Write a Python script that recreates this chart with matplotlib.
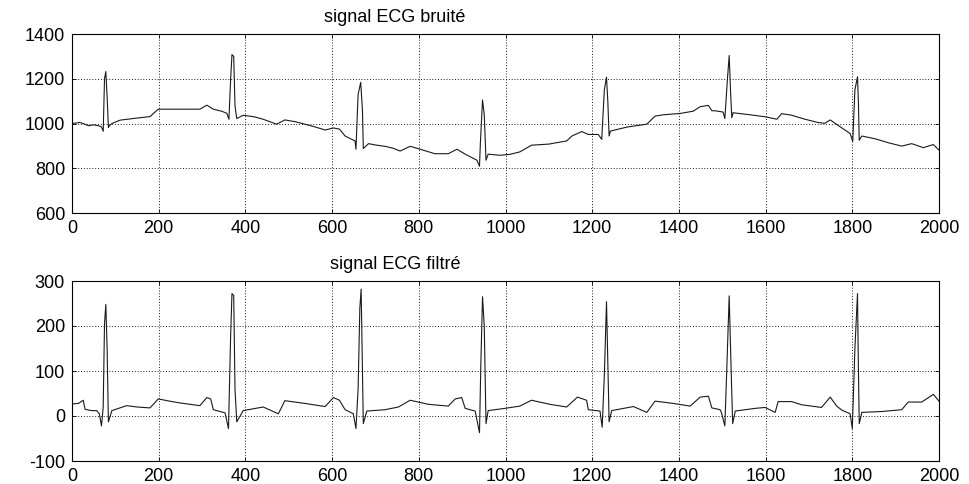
import matplotlib
matplotlib.use("Agg")
import matplotlib.pyplot as plt

plt.rcParams['font.family'] = ['Liberation Sans', 'DejaVu Sans']
plt.rcParams['axes.unicode_minus'] = False

# ---- data ----
noisy_x = [0, 10, 18, 28, 38, 50, 61, 68, 72, 75, 78, 81, 84, 86, 92, 111, 140, 180, 199,
           240, 295, 311, 326, 345, 357, 362, 366, 369, 373, 376, 380, 395, 420, 441, 472, 491,
           515, 537, 560, 584, 603, 617, 630, 653, 655, 660, 666, 670, 672, 684, 700, 722, 740,
           757, 780, 798, 820, 837, 868, 888, 907, 934, 940, 942, 947, 951, 955, 960, 987, 1010,
           1033, 1060, 1100, 1141, 1153, 1176, 1191, 1214, 1222, 1228, 1233, 1236, 1239, 1242,
           1280, 1326, 1345, 1364, 1403, 1433, 1449, 1468, 1476, 1483, 1502, 1506, 1512, 1516,
           1519, 1522, 1525, 1560, 1599, 1626, 1637, 1660, 1691, 1722, 1737, 1749, 1776, 1795,
           1801, 1806, 1812, 1814, 1816, 1822, 1852, 1883, 1914, 1937, 1964, 1987, 2000]
noisy_y = [1000, 1002, 1005, 998, 990, 994, 990, 985, 965, 1200, 1232, 1120, 982, 990, 1000,
           1015, 1022, 1031, 1064, 1064, 1064, 1082, 1064, 1055, 1046, 1019, 1200, 1308, 1300,
           1080, 1022, 1037, 1030, 1019, 997, 1016, 1008, 997, 985, 971, 980, 975, 944, 922, 885,
           1130, 1184, 1060, 888, 910, 904, 898, 890, 877, 898, 888, 875, 865, 865, 885, 863, 836,
           809, 910, 1105, 1040, 836, 863, 858, 862, 873, 903, 908, 922, 944, 964, 951, 951, 929,
           1150, 1207, 1100, 944, 966, 984, 997, 1033, 1039, 1045, 1055, 1075, 1081, 1057, 1057,
           1051, 1022, 1200, 1304, 1150, 1026, 1048, 1040, 1030, 1019, 1044, 1037, 1019, 1004,
           1001, 1016, 980, 955, 920, 1150, 1209, 1100, 925, 944, 932, 914, 899, 910, 892, 906,
           881]

filt_x = [0, 3, 15, 26, 30, 45, 57, 63, 68, 72, 75, 78, 81, 84, 92, 126, 150, 180, 199, 225,
          249, 295, 311, 320, 326, 353, 361, 366, 369, 373, 376, 380, 395, 441, 476, 491, 537,
          584, 603, 617, 630, 649, 655, 660, 664, 667, 670, 672, 680, 722, 753, 780, 822, 868,
          884, 899, 907, 930, 940, 943, 947, 951, 955, 960, 999, 1033, 1060, 1102, 1141, 1166,
          1187, 1191, 1218, 1223, 1228, 1233, 1236, 1239, 1245, 1295, 1326, 1345, 1387, 1426,
          1449, 1468, 1476, 1495, 1498, 1506, 1511, 1516, 1520, 1524, 1530, 1576, 1599, 1622,
          1629, 1660, 1683, 1729, 1749, 1764, 1776, 1795, 1800, 1806, 1812, 1814, 1816, 1822,
          1868, 1914, 1929, 1960, 1987, 2000]
filt_y = [25, 27, 28, 35, 15, 12, 12, 5, -22, 20, 205, 248, 150, -13, 12, 23, 20, 18, 38, 33,
          29, 23, 41, 38, 14, 7, -28, 180, 272, 268, 60, -13, 12, 20, 5, 34, 28, 21, 41, 35, 14,
          5, -28, 60, 240, 282, 100, -17, 11, 14, 20, 35, 26, 22, 38, 41, 17, 11, -37, 110, 265,
          200, -17, 12, 17, 22, 35, 26, 20, 42, 35, 14, 11, -25, 90, 254, 120, -13, 12, 21, 8,
          33, 28, 22, 42, 44, 18, 14, 8, -22, 120, 267, 120, -17, 11, 17, 19, 8, 32, 32, 25, 19,
          42, 22, 13, 5, -28, 150, 272, 110, -17, 8, 10, 14, 31, 31, 48, 33]

x_ticks = [0, 200, 400, 600, 800, 1000, 1200, 1400, 1600, 1800, 2000]
top_yticks = [600, 800, 1000, 1200, 1400]
bot_yticks = [-100, 0, 100, 200, 300]
top_title = "signal ECG bruité"
bot_title = "signal ECG filtré"

# ---- figure ----
W, H = 969, 484
fig = plt.figure(figsize=(W / 100, H / 100), dpi=100)
fig.patch.set_facecolor("white")

def axes_px(left, top, right, bottom):
    return fig.add_axes([left / W, 1 - bottom / H, (right - left) / W, (bottom - top) / H])

ax1 = axes_px(72, 34, 939, 213)
ax2 = axes_px(72, 281, 939, 461)

fs = 13
for ax, xs, ys, yt, title in [(ax1, noisy_x, noisy_y, top_yticks, top_title),
                               (ax2, filt_x, filt_y, bot_yticks, bot_title)]:
    ax.plot(xs, ys, color="#1a1a1a", lw=0.8)
    ax.set_xlim(0, 2000)
    ax.set_ylim(yt[0], yt[-1])
    ax.set_xticks(x_ticks)
    ax.set_yticks(yt)
    ax.grid(True, color="black", linestyle=(0, (1.2, 2.2)), linewidth=0.6)
    ax.tick_params(direction="in", length=3, width=0.6, labelsize=fs, pad=5,
                   top=True, right=True, colors="black")
    for s in ax.spines.values():
        s.set_linewidth(0.8)
        s.set_color("black")
    ax.text(0.3725, 1.045, title, transform=ax.transAxes, ha="center", va="bottom",
            fontsize=fs, color="black")

fig.savefig("out.png", dpi=100, facecolor="white")
